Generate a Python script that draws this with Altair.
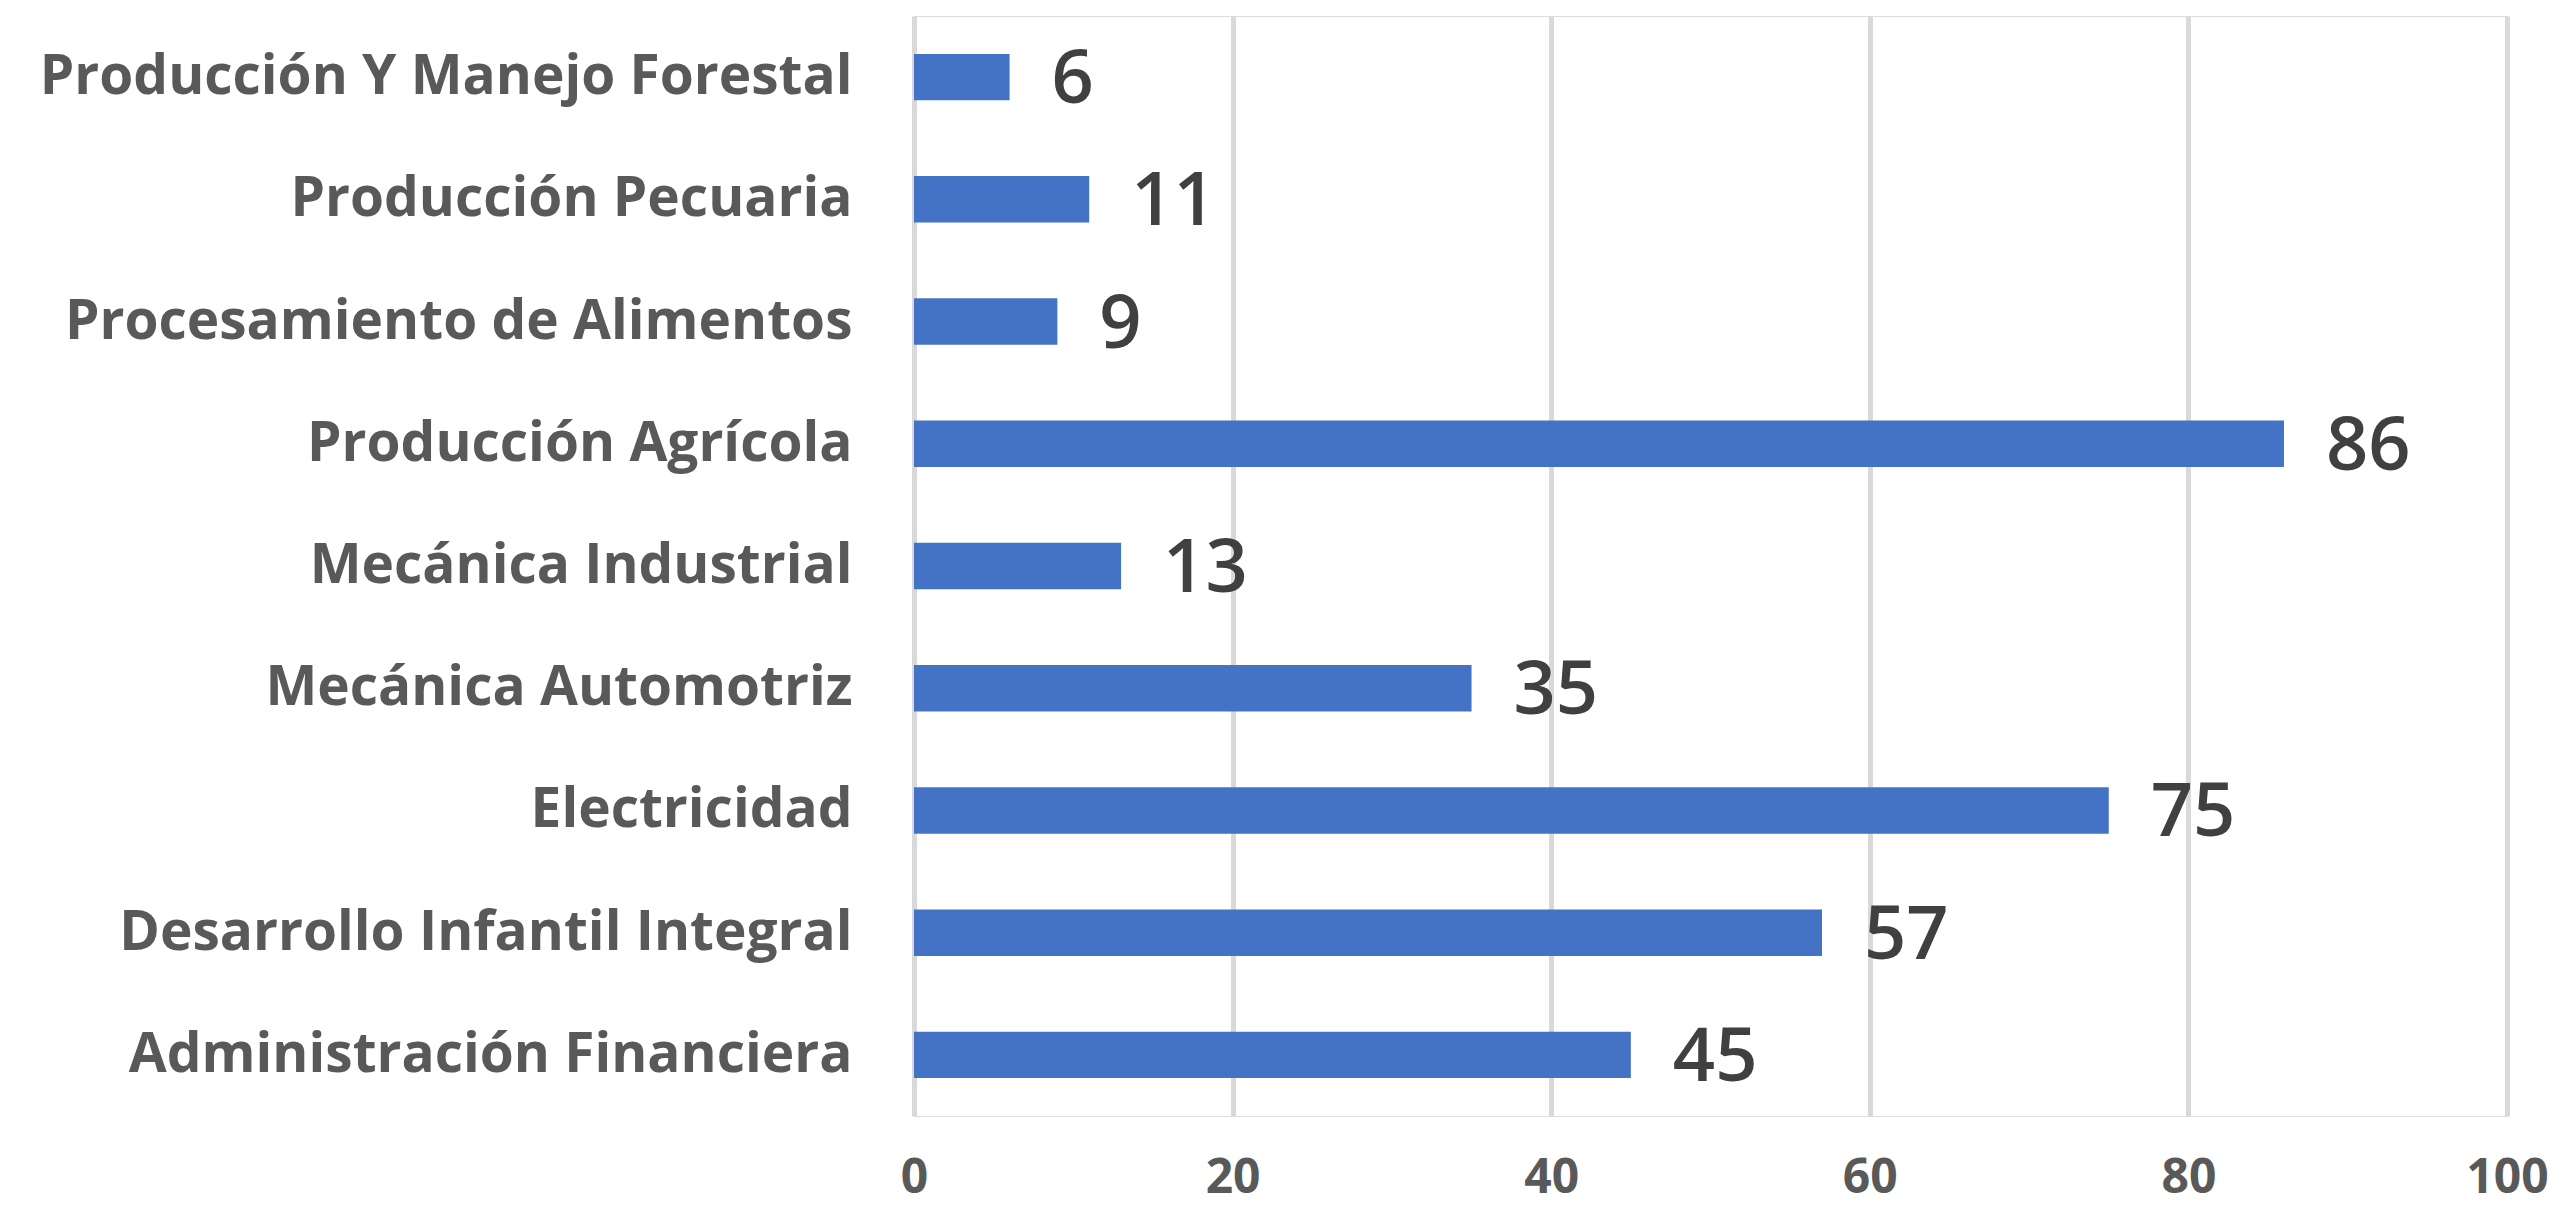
import altair as alt
import pandas as pd

categories = [
    "Producción Y Manejo Forestal",
    "Producción Pecuaria",
    "Procesamiento de Alimentos",
    "Producción Agrícola",
    "Mecánica Industrial",
    "Mecánica Automotriz",
    "Electricidad",
    "Desarrollo Infantil Integral",
    "Administración Financiera",
]
values = [6, 11, 9, 86, 13, 35, 75, 57, 45]
x_ticks = [0, 20, 40, 60, 80, 100]

df = pd.DataFrame({"cat": categories, "val": values})

y_enc = alt.Y(
    "cat:N",
    sort=categories,
    title=None,
    scale=alt.Scale(paddingInner=0.62, paddingOuter=0.31),
    axis=alt.Axis(
        labelFont="Open Sans",
        labelFontSize=55,
        labelFontWeight="bold",
        labelColor="#595959",
        labelLimit=1200,
        labelPadding=62,
        ticks=False,
        domain=False,
        grid=False,
    ),
)
x_enc = alt.X(
    "val:Q",
    title=None,
    scale=alt.Scale(domain=[0, 100], nice=False),
    axis=alt.Axis(
        values=x_ticks,
        labelFont="Open Sans",
        labelFontSize=48,
        labelFontWeight="bold",
        labelColor="#595959",
        labelPadding=38,
        labelFlush=False,
        labelOverlap=False,
        ticks=False,
        domain=False,
        grid=True,
        gridColor="#d9d9d9",
        gridWidth=5,
    ),
)

bars = alt.Chart(df).mark_bar(color="#4472C4").encode(x=x_enc, y=y_enc)
labels = alt.Chart(df).mark_text(
    align="left", baseline="middle", dx=42, dy=4,
    font="Open Sans", fontSize=74, fontWeight=600, color="#404040"
).encode(x=alt.X("val:Q"), y=alt.Y("cat:N", sort=categories), text="val:Q")

chart = (
    alt.layer(bars, labels)
    .properties(
        width=1593,
        height=1100,
        autosize=alt.AutoSizeParams(type="none"),
        padding={"left": 906, "top": 8, "right": 50, "bottom": 97},
    )
    .configure_view(stroke=None)
    .configure(background="white")
)

chart.save("out.html", embed_options={"renderer": "svg", "actions": False})
